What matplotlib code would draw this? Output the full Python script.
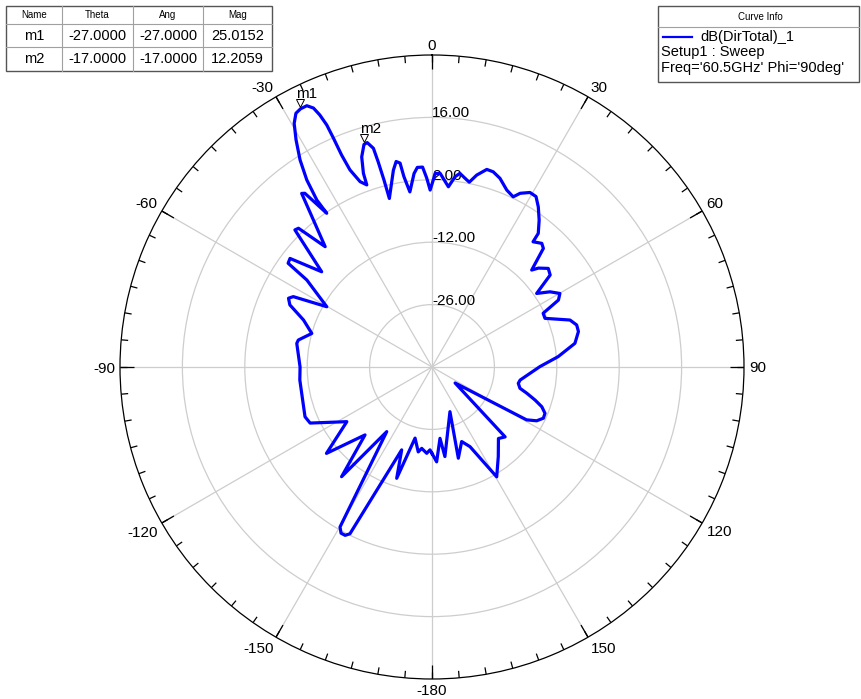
import numpy as np
import matplotlib
matplotlib.use('Agg')
import matplotlib.pyplot as plt
from matplotlib.lines import Line2D
from matplotlib.patches import Rectangle
from matplotlib.transforms import offset_copy

plt.rcParams['font.family'] = ['Liberation Sans', 'DejaVu Sans']

# radiation pattern, in path order (theta deg, dB)
theta_deg = [-180, -178.6, -176.5, -172.8, -170.8, -166.6, -162.4, -159.9, -153.8, -152.7,
             -151.3, -150.1, -145.0, -140.5, -135.4, -129.3, -122.7, -114.7, -111.4, -95.6,
             -90.0, -80.1, -78.6, -74.4, -69.9, -66.4, -64.4, -63.1, -60.2, -55.2,
             -54.2, -52.6, -49.2, -45.0, -43.9, -41.6, -36.9, -36.2, -34.4, -34.6,
             -33.8, -32.5, -30.9, -29.5, -28.2, -27.0, -25.6, -24.6, -24.0, -23.5,
             -23.3, -23.1, -22.6, -21.2, -19.7, -19.5, -18.5, -17.0, -16.1, -15.0,
             -14.7, -14.4, -14.2, -11.1, -9.9, -8.9, -8.4, -7.2, -5.3, -4.2,
             -2.7, -1.6, -0.6, 0.4, 0.9, 2.4, 5.2, 6.9, 8.2, 9.9,
             11.4, 13.1, 15.5, 17.4, 19.8, 22.9, 25.5, 26.9, 29.3, 31.4,
             33.6, 36.1, 38.5, 38.9, 41.6, 43.2, 45.8, 47.1, 49.7, 52.1,
             54.9, 57.5, 60.1, 62.1, 64.2, 66.7, 71.2, 73.8, 76.4, 80.6,
             85.3, 89.8, 98.4, 100.7, 103.6, 105.5, 107.8, 109.9, 112.3, 114.7,
             117.2, 119.2, 124.7, 133.7, 137.1, 143.5, 149.5, 154.5, 158.3, 163.9,
             158.1, 171.8, 173.6, 177.2, 180]
mag_db = [-20.6, -21.4, -20.6, -21.6, -20.7, -23.6, -13.8, -20.2, 1.7, 2.5,
          2.5, 1.4, -22.3, -8.1, -18.6, -9.4, -17.3, -9.9, -9.4, -10.2,
          -10.4, -9.2, -9.4, -12.0, -9.3, -5.2, -4.3, -5.1, -12.8, -5.8,
          -0.2, 0.1, -7.3, 3.5, 3.2, -3.9, 8.7, 8.3, 1.8, 5.5,
          10.5, 15.1, 19.4, 22.8, 24.6, 25.0, 25.0, 23.9, 21.9, 19.2,
          15.9, 11.7, 7.9, 4.6, 3.4, 6.1, 9.7, 12.2, 12.4, 10.8,
          7.6, 3.3, -1.0, 5.0, 6.8, 6.3, 3.2, -0.4, 3.6, 4.9,
          4.9, 2.4, -0.3, 2.0, 3.4, 3.5, 0.6, 3.0, 3.9, 3.0,
          2.3, 4.2, 6.0, 5.9, 5.0, 3.1, 2.3, 3.7, 4.9, 4.8,
          3.1, 0.8, -1.7, -3.9, -2.9, -3.5, -8.8, -7.4, -5.8, -6.4,
          -11.3, -8.6, -6.9, -7.9, -12.3, -12.4, -7.3, -6.2, -6.2, -7.5,
          -11.6, -15.8, -20.0, -20.3, -19.7, -17.9, -15.7, -13.8, -12.6, -12.5,
          -13.6, -15.7, -33.7, -17.3, -18.1, -15.0, -11.4, -20.2, -22.0, -18.7,
          -29.2, -19.7, -23.9, -18.7, -20.6]

ring_levels = [-26, -12, 2, 16]
ring_labels = ['-26.00', '-12.00', '2.00', '16.00']
angle_ticks = [0, 30, 60, 90, 120, 150, 180, 210, 240, 270, 300, 330]
angle_labels = ['0', '30', '60', '90', '120', '150', '-180', '-150', '-120', '-90', '-60', '-30']

marker_names = ['m1', 'm2']
marker_theta = [-27.0, -17.0]
marker_mag = [25.0152, 12.2059]

table_cols = ['Name', 'Theta', 'Ang', 'Mag']
table_rows = [['m1', '-27.0000', '-27.0000', '25.0152'],
              ['m2', '-17.0000', '-17.0000', '12.2059']]

W, H = 861, 699
fig = plt.figure(figsize=(W / 100, H / 100), dpi=100)


def fx(x):
    return x / W


def fy(y):
    return 1 - y / H


def hline(x0, x1, y, color, lw=0.8):
    fig.add_artist(Line2D([fx(x0), fx(x1)], [fy(y), fy(y)], transform=fig.transFigure,
                          color=color, lw=lw))


def vline(x, y0, y1, color, lw=0.8):
    fig.add_artist(Line2D([fx(x), fx(x)], [fy(y0), fy(y1)], transform=fig.transFigure,
                          color=color, lw=lw))


# polar axes placed so the centre sits where it does in the picture
cx, cy, R = 432, 367, 312
rmin, rmax = -40, 30
px_per_db = R / (rmax - rmin)
ax = fig.add_axes([fx(cx - R), fy(cy + R), 2 * R / W, 2 * R / H], projection='polar')
ax.set_theta_zero_location('N')
ax.set_theta_direction(-1)
ax.set_rlim(rmin, rmax)

ax.set_xticks(np.deg2rad(angle_ticks))
ax.set_xticklabels([''] * len(angle_ticks))
ax.tick_params(axis='both', length=0)
ax.set_yticks(ring_levels)
ax.set_yticklabels([''] * len(ring_levels))
ax.grid(True, color='#cdcdcd', lw=0.9)
ax.spines['polar'].set_color('black')
ax.spines['polar'].set_linewidth(0.9)

# inward ticks on the rim: long every 30 deg, short every 5 deg
minor = np.arange(0, 360, 5)
ax.vlines(np.deg2rad(minor), rmax - 7 / px_per_db, rmax, colors='black', lw=0.9, zorder=5)
ax.vlines(np.deg2rad(angle_ticks), rmax - 14 / px_per_db, rmax, colors='black', lw=0.9, zorder=5)

# angle labels sit just outside the rim, aligned by the side they face
r_lab = rmax + 5 / px_per_db
for a, lab in zip(angle_ticks, angle_labels):
    s, c = np.sin(np.deg2rad(a)), np.cos(np.deg2rad(a))
    ha = 'left' if s > 0.1 else ('right' if s < -0.1 else 'center')
    va = 'baseline' if c > 0.1 else ('top' if c < -0.1 else 'center_baseline')
    ax.text(np.deg2rad(a), r_lab, lab, ha=ha, va=va, fontsize=11)
for lvl, lab in zip(ring_levels, ring_labels):
    ax.text(0, lvl, lab, ha='left', va='baseline', fontsize=11)

ax.plot(np.deg2rad(theta_deg), mag_db, color='#0000ff', lw=2.3, zorder=3,
        solid_joinstyle='round')

# markers
tri_tr = offset_copy(ax.transData, fig=fig, x=0, y=6, units='dots')
txt_tr = offset_copy(ax.transData, fig=fig, x=-4, y=15, units='dots')
for name, t, m in zip(marker_names, marker_theta, marker_mag):
    ax.plot(np.deg2rad(t), m, marker='v', ms=6, mfc='white', mec='black', mew=0.7,
            transform=tri_tr, zorder=4)
    ax.text(np.deg2rad(t), m, name, transform=txt_tr, ha='left', va='center', fontsize=11)

# marker table
col_x = [6, 62, 133, 203, 272]
row_y = [6, 24, 47, 71]
fig.add_artist(Rectangle((fx(6), fy(71)), fx(272) - fx(6), fy(6) - fy(71),
                         transform=fig.transFigure, fill=False, ec='#555555', lw=1.0))
for x in col_x[1:-1]:
    vline(x, row_y[0], row_y[-1], '#a0a0a0')
for y in row_y[1:-1]:
    hline(col_x[0], col_x[-1], y, '#a0a0a0')
for i, c in enumerate(table_cols):
    fig.text(fx((col_x[i] + col_x[i + 1]) / 2), fy(15.5), c, ha='center', va='center', fontsize=7)
for r, row in enumerate(table_rows):
    yc = (row_y[r + 1] + row_y[r + 2]) / 2
    for i, val in enumerate(row):
        fig.text(fx((col_x[i] + col_x[i + 1]) / 2), fy(yc), val, ha='center', va='center',
                 fontsize=10.5)

# curve info box
fig.add_artist(Rectangle((fx(658), fy(82)), fx(859) - fx(658), fy(6) - fy(82),
                         transform=fig.transFigure, fill=False, ec='#555555', lw=1.0))
hline(658, 859, 27, '#a0a0a0')
fig.text(fx(760), fy(17), 'Curve Info', ha='center', va='center', fontsize=7)
fig.add_artist(Line2D([fx(663), fx(692)], [fy(37), fy(37)], transform=fig.transFigure,
                      color='#0000ff', lw=1.6))
fig.text(fx(700), fy(37), 'dB(DirTotal)_1', ha='left', va='center', fontsize=10.5)
fig.text(fx(661), fy(52), 'Setup1 : Sweep', ha='left', va='center', fontsize=10.5)
fig.text(fx(661), fy(68), "Freq='60.5GHz' Phi='90deg'", ha='left', va='center', fontsize=10.5)

fig.savefig('out.png', dpi=100)
